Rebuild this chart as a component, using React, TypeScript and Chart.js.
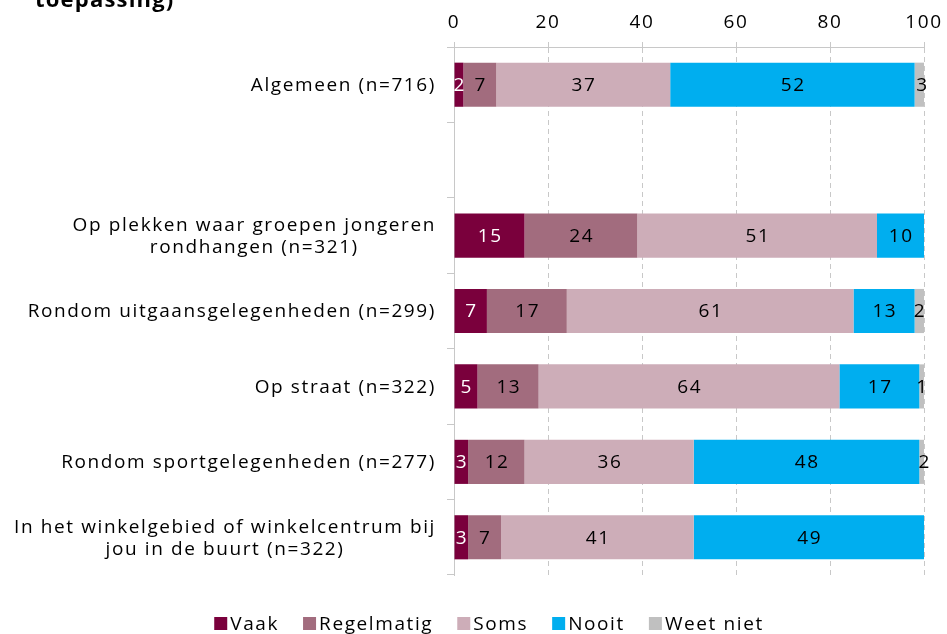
import React, { useEffect, useRef } from 'react';
import { Chart, registerables } from 'chart.js';

Chart.register(...registerables);

const titleText = 'toepassing)';
const categories: (string | string[])[] = [
  'Algemeen (n=716)',
  '',
  ['Op plekken waar groepen jongeren', 'rondhangen (n=321)'],
  'Rondom uitgaansgelegenheden (n=299)',
  'Op straat (n=322)',
  'Rondom sportgelegenheden (n=277)',
  ['In het winkelgebied of winkelcentrum bij', 'jou in de buurt (n=322)'],
];
const seriesNames = ['Vaak', 'Regelmatig', 'Soms', 'Nooit', 'Weet niet'];
const vaak = [2, null, 15, 7, 5, 3, 3];
const regelmatig = [7, null, 24, 17, 13, 12, 7];
const soms = [37, null, 51, 61, 64, 36, 41];
const nooit = [52, null, 10, 13, 17, 48, 49];
const weetNiet = [3, null, 0.4, 2, 1, 2, 0];
const xMin = 0;
const xMax = 100;
const xStep = 20;

const colors = ['#7a003c', '#a26c7e', '#cdadb8', '#00aeef', '#c0c0c0'];
const labelColors = ['#ffffff', '#000000', '#000000', '#000000', '#000000'];

const FAMILY = '"Open Sans", sans-serif';
const SIZE = 19;
const SPACING = '1.6px';
const GRID = '#c8c8c8';

const customPlugin = {
  id: 'customText',
  beforeLayout(chart: any) {
    chart.ctx.letterSpacing = SPACING;
  },
  beforeDraw(chart: any) {
    chart.ctx.letterSpacing = SPACING;
  },
  afterDatasetsDraw(chart: any) {
    const ctx = chart.ctx;
    ctx.save();
    ctx.letterSpacing = SPACING;
    ctx.font = `${SIZE}px ${FAMILY}`;
    ctx.textAlign = 'center';
    ctx.textBaseline = 'middle';
    chart.data.datasets.forEach((ds: any, di: number) => {
      const meta = chart.getDatasetMeta(di);
      meta.data.forEach((bar: any, i: number) => {
        const v = ds.data[i];
        if (v == null || v < 1) return;
        const p = bar.getProps(['x', 'y', 'base'], true);
        ctx.fillStyle = labelColors[di];
        ctx.fillText(String(v), (p.x + p.base) / 2 + 0.8, p.y + 1);
      });
    });
    ctx.restore();
  },
  afterDraw(chart: any) {
    const ctx = chart.ctx;
    const yScale = chart.scales.y;
    ctx.save();
    ctx.letterSpacing = SPACING;
    ctx.font = `${SIZE}px ${FAMILY}`;
    ctx.fillStyle = '#000';
    ctx.textBaseline = 'middle';
    const rightEdge = yScale.right - 18;
    const lh = 22;
    (chart.data.labels as any[]).forEach((lab: any, i: number) => {
      const y = yScale.getPixelForTick(i) + 1;
      const lines: string[] = Array.isArray(lab) ? lab : [lab];
      if (!lines.join('')) return;
      const widths = lines.map((l) => ctx.measureText(l).width);
      const maxW = Math.max(...widths);
      const cx = rightEdge - maxW / 2;
      ctx.textAlign = 'center';
      lines.forEach((l, k) => {
        ctx.fillText(l, cx, y - ((lines.length - 1) * lh) / 2 + k * lh);
      });
    });

    // legend
    const box = 13;
    const gap = 3;
    const itemGap = 24;
    const items = chart.data.datasets.map((ds: any) => ({
      label: ds.label,
      color: ds.backgroundColor,
      w: ctx.measureText(ds.label).width,
    }));
    const total =
      items.reduce((s: number, it: any) => s + box + gap + it.w, 0) + itemGap * (items.length - 1);
    let x = 489 - total / 2;
    const baseY = 630;
    ctx.textAlign = 'left';
    ctx.textBaseline = 'alphabetic';
    items.forEach((it: any) => {
      ctx.fillStyle = it.color;
      ctx.fillRect(x, baseY - 13, box, box);
      ctx.fillStyle = '#000';
      ctx.fillText(it.label, x + box + gap, baseY);
      x += box + gap + it.w + itemGap;
    });

    // partially visible title
    ctx.font = `bold 22px ${FAMILY}`;
    ctx.letterSpacing = '1.2px';
    ctx.fillText(titleText, 35, 7);
    ctx.restore();
  },
};

export default function App() {
  const ref = useRef<HTMLCanvasElement | null>(null);
  useEffect(() => {
    if (!ref.current) return;
    const seriesData = [vaak, regelmatig, soms, nooit, weetNiet];
    const chart = new Chart(ref.current, {
      type: 'bar',
      data: {
        labels: categories as any,
        datasets: seriesNames.map((name, i) => ({
          label: name,
          data: seriesData[i] as any,
          backgroundColor: colors[i],
          borderWidth: 0,
          barPercentage: 0.585,
          categoryPercentage: 1,
        })),
      },
      options: {
        indexAxis: 'y',
        animation: false,
        responsive: false,
        events: [],
        font: { family: FAMILY, size: SIZE } as any,
        layout: { padding: { left: 0, right: 23, top: 0, bottom: 59 } },
        plugins: {
          legend: { display: false },
          tooltip: { enabled: false },
          title: { display: false },
        },
        scales: {
          x: {
            position: 'top',
            stacked: true,
            min: xMin,
            max: xMax,
            ticks: {
              stepSize: xStep,
              color: '#000',
              padding: 8,
              font: { family: FAMILY, size: SIZE },
            },
            grid: { color: GRID, tickLength: 5, tickBorderDash: [] },
            border: { color: GRID, dash: [5, 4] },
            afterFit: (s: any) => {
              s.height = 47;
              s.paddingLeft = 0;
              s.paddingRight = 0;
            },
          },
          y: {
            stacked: true,
            ticks: { display: false },
            grid: { offset: true, drawOnChartArea: false, tickLength: 7, color: GRID },
            border: { color: GRID },
            afterFit: (s: any) => {
              s.width = 454;
              s.paddingTop = 0;
              s.paddingBottom = 0;
            },
          },
        },
      },
      plugins: [customPlugin],
    });
    return () => chart.destroy();
  }, []);
  return (
    <canvas
      ref={ref}
      width={947}
      height={634}
      style={{ position: 'fixed', left: 0, top: 0, width: 947, height: 634 }}
    />
  );
}
